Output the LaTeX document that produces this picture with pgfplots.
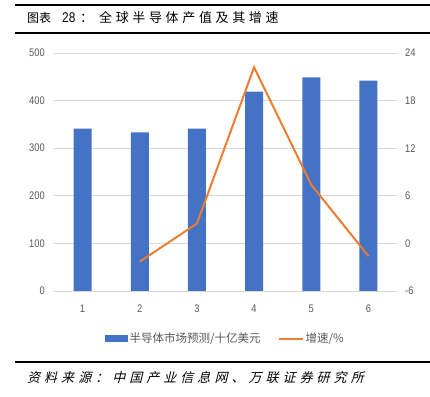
\documentclass[border=0pt]{standalone}
\usepackage{pgfplots}
\pgfplotsset{compat=1.18}
\usepackage{fontspec}
\setmainfont{Liberation Sans}[FakeStretch=0.85]
\newfontfamily\cjk{Noto Sans CJK SC}
\newfontfamily\cjktitle{Noto Sans CJK SC}[LetterSpace=28]
\newfontfamily\cjksrc{Noto Sans CJK SC}[FakeSlant=0.25,LetterSpace=31]
\definecolor{barblue}{HTML}{4472C4}
\definecolor{lineorange}{HTML}{ED7D31}
\definecolor{txtgray}{HTML}{595959}
\definecolor{gridgray}{HTML}{D9D9D9}
\begin{document}
\begin{tikzpicture}[x=1bp,y=1bp]
\useasboundingbox (0,0) rectangle (430,397);
\draw[line width=2bp] (15,392) -- (430,392);
\draw[line width=2bp] (15,364) -- (430,364);
\draw[line width=2bp] (15,35) -- (430,35);
\node[anchor=west, inner sep=0] at (27,379) {\fontsize{12bp}{15bp}\cjk 图表};
\node[anchor=west, inner sep=0] at (62,379) {\fontsize{14bp}{15bp}\selectfont 28};
\node[anchor=west, inner sep=0] at (80,379) {\fontsize{13bp}{15bp}\cjk ：};
\node[anchor=west, inner sep=0] at (99,379) {\fontsize{13bp}{15bp}\cjktitle 全球半导体产值及其增速};
\node[anchor=west, inner sep=0] at (27,19) {\fontsize{13bp}{15bp}\cjksrc 资料来源：中国产业信息网、万联证券研究所};
\begin{axis}[at={(54bp,106bp)}, anchor=south west, scale only axis,
  width=343bp, height=238bp, xmin=0.5, xmax=6.5, ymin=0, ymax=500,
  ytick={0,100,...,500}, xtick={1,...,6},
  axis line style={draw=none}, ymajorgrids, grid style={gridgray, line width=0.8bp},
  major tick length=0,
  ticklabel style={font=\fontsize{11bp}{13bp}\selectfont, text=txtgray},
  /pgf/number format/assume math mode=true,
  yticklabel style={inner sep=0pt, xshift=-9bp},
  xticklabel style={inner sep=0pt, yshift=-14bp}]
\addplot[ybar, bar width=18bp, fill=barblue, draw=none] coordinates {(1,341) (2,333) (3,341) (4,419) (5,449) (6,442)};
\end{axis}
\begin{axis}[at={(54bp,106bp)}, anchor=south west, scale only axis,
  width=343bp, height=238bp, xmin=0.5, xmax=6.5, ymin=-6, ymax=24,
  ytick={-6,0,...,24}, axis y line*=right, hide x axis,
  axis line style={draw=none}, major tick length=0,
  ticklabel style={font=\fontsize{11bp}{13bp}\selectfont, text=txtgray},
  /pgf/number format/assume math mode=true,
  yticklabel style={inner sep=0pt, xshift=8bp},
  legend style={at={(0.5,-0.2)}, anchor=center, draw=none, legend columns=2,
    font=\fontsize{11.5bp}{13bp}\cjk, text=txtgray,
    /tikz/every even column/.append style={column sep=15bp}},
  legend cell align=left]
\addlegendimage{legend image code/.code={\fill[barblue] (0,-3bp) rectangle (22bp,3bp);}}
\addlegendentry{半导体市场预测/十亿美元}
\addplot[lineorange, line width=2bp, legend image code/.code={\draw[lineorange, line width=2bp] (0,0) -- (24bp,0);}] coordinates {(2,-2.3) (3,2.5) (4,22.2) (5,7.4) (6,-1.6)};
\addlegendentry{增速/\%}
\end{axis}
\end{tikzpicture}
\end{document}
